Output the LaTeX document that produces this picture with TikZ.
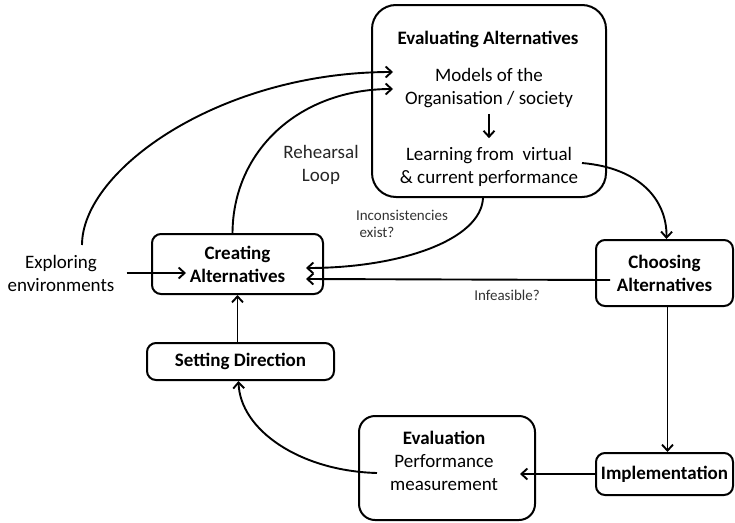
\documentclass[tikz,border=0pt]{standalone}
\usepackage{fontspec}
\setmainfont{Carlito}
\usetikzlibrary{arrows.meta}
\begin{document}
\begin{tikzpicture}[x=1pt,y=-1pt,
  box/.style={draw,line width=2pt,rounded corners=#1,inner sep=0pt},
  box/.default=9pt,
  lbl/.style={font=\fontsize{19}{23}\selectfont,align=center,inner sep=0pt},
  hd/.style={font=\fontsize{19}{23}\selectfont\bfseries,align=center,inner sep=0pt},
  note/.style={font=\fontsize{15}{17}\selectfont,text=black!80,inner sep=0pt},
  arr/.style={line width=1.9pt,-{Straight Barb[length=6pt,width=11pt]}}]
\useasboundingbox (0,0) rectangle (735,522);

% boxes
\node[box=24pt,minimum width=234pt,minimum height=192pt] (evalalt) at (489,101) {};
\node[hd] (evtitle) at (488,39) {Evaluating Alternatives};
\node[lbl] (models) at (489,88) {Models of the\\Organisation / society};
\node[lbl] (learning) at (489,167) {Learning from\ \ virtual\\\& current performance};

\node[box,hd,minimum width=171pt,minimum height=60pt] (creating) at (237.5,264) {Creating\\Alternatives};
\node[box,hd,minimum width=187pt,minimum height=37pt] (setting) at (240.5,361.5) {Setting Direction};
\node[box,hd,minimum width=137pt,minimum height=66pt] (choosing) at (664.5,273) {Choosing\\Alternatives};
\node[box,hd,minimum width=137pt,minimum height=42pt] (implementation) at (664.5,474) {Implementation};
\node[box=16pt,minimum width=176pt,minimum height=104pt] (evaluation) at (447,468) {};
\node[lbl] (evaltext) at (444,460.5) {\textbf{Evaluation}\\Performance\\measurement};

\node[lbl] (explore) at (61,273) {Exploring\\environments};

% free ends of connectors
\coordinate (mIn1) at (393,72);
\coordinate (mIn2) at (393,89);
\coordinate (cTip1) at (186,273);
\coordinate (cTip2) at (306,268);
\coordinate (cTip3) at (306,279);
\coordinate (chOut) at (610,280);
\coordinate (learnOut) at (582,163);
\coordinate (evTip) at (520,474);
\coordinate (evOut) at (377,473);
\coordinate (exTop) at (82,245);

% labels
\node[lbl,text=black!85] (rehearsal) at (321,165) {Rehearsal\\Loop};
\node[note] (incons) at (402,215) {Inconsistencies};
\node[note] (exist) at (377,232) {exist?};
\node[note] (infeasible) at (507,295) {Infeasible?};

% connectors
\draw[arr] (models.south) ++(0,6) -- ([yshift=9pt]learning.north);
\draw[arr,shorten <=12pt] (explore.east) -- (cTip1);
\draw[arr] (exTop) .. controls (82,170) and (220,72) .. (mIn1);
\draw[arr] ([xshift=-5pt]creating.north) .. controls (233,150) and (300,89) .. (mIn2);
\draw[arr] ([xshift=-6pt]evalalt.south) .. controls (481,240) and (400,268) .. (cTip2);
\draw[arr] (chOut) -- (cTip3);
\draw[arr] (learnOut) .. controls (640,168) and (667,200) .. ([xshift=2pt]choosing.north);
\draw[arr] ([xshift=3pt]choosing.south) -- ([xshift=3pt]implementation.north);
\draw[arr] (implementation.west) -- (evTip);
\draw[arr] (evOut) .. controls (300,471) and (240,430) .. ([xshift=-2pt]setting.south);
\draw[arr] ([xshift=-3pt]setting.north) -- ([xshift=-3pt]setting.north |- creating.south);
\end{tikzpicture}
\end{document}
